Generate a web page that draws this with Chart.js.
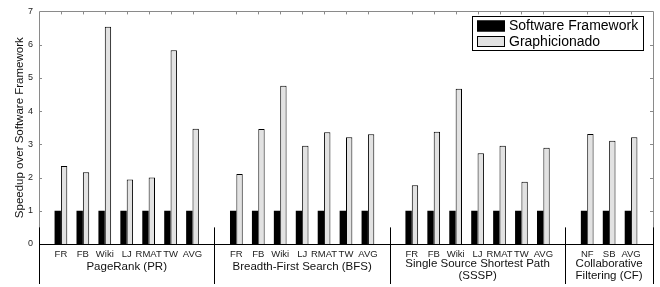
<!DOCTYPE html>
<html>
<head>
<meta charset="utf-8">
<script src="https://cdn.jsdelivr.net/npm/chart.js@4"></script>
<style>
  html, body { margin: 0; padding: 0; background: #fff; }
  #wrap { width: 660px; height: 287px; }
</style>
</head>
<body>
<div id="wrap"><canvas id="myChart" width="660" height="287"></canvas></div>
<script>
// categories per group
const groupNames = [["PageRank (PR)"], ["Breadth-First Search (BFS)"], ["Single Source Shortest Path", "(SSSP)"], ["Collaborative", "Filtering (CF)"]];
const prCats = ["FR", "FB", "Wiki", "LJ", "RMAT", "TW", "AVG"];
const bfsCats = ["FR", "FB", "Wiki", "LJ", "RMAT", "TW", "AVG"];
const ssspCats = ["FR", "FB", "Wiki", "LJ", "RMAT", "TW", "AVG"];
const cfCats = ["NF", "SB", "AVG"];

// Graphicionado speedup
const prSpeedup = [2.35, 2.16, 6.54, 1.94, 2.0, 5.83, 3.47];
const bfsSpeedup = [2.11, 3.46, 4.76, 2.96, 3.36, 3.21, 3.30];
const ssspSpeedup = [1.77, 3.38, 4.67, 2.73, 2.96, 1.87, 2.90];
const cfSpeedup = [3.31, 3.11, 3.21];

// software framework baseline
const baseline = 1;
const yTicks = [0, 1, 2, 3, 4, 5, 6, 7];

// build the axis with an empty slot around each group
const groupCats = [prCats, bfsCats, ssspCats, cfCats];
const groupVals = [prSpeedup, bfsSpeedup, ssspSpeedup, cfSpeedup];
let labels = [""];
let swData = [null];
let gData = [null];
let groupCenters = [];
let separators = [0];
groupCats.forEach((cats, g) => {
  let start = labels.length;
  cats.forEach((c, i) => {
    labels.push(c);
    swData.push(baseline);
    gData.push(groupVals[g][i]);
  });
  groupCenters.push((start + labels.length - 1) / 2);
  separators.push(labels.length);
  labels.push("");
  swData.push(null);
  gData.push(null);
});

const FONT = "'Liberation Sans', Arial, sans-serif";

const framePlugin = {
  id: "frame",
  afterDatasetsDraw(chart) {
    const { ctx, chartArea: a, scales } = chart;
    const x = scales.x, y = scales.y;
    ctx.save();
    // gray frame
    ctx.strokeStyle = "#8a8a8a";
    ctx.lineWidth = 1;
    ctx.beginPath();
    ctx.moveTo(Math.round(a.left) + 0.5, Math.round(a.bottom));
    ctx.lineTo(Math.round(a.left) + 0.5, Math.round(a.top) + 0.5);
    ctx.lineTo(Math.round(a.right) + 0.5, Math.round(a.top) + 0.5);
    ctx.lineTo(Math.round(a.right) + 0.5, Math.round(a.bottom));
    ctx.stroke();
    // inward ticks
    ctx.beginPath();
    labels.forEach((l, i) => {
      if (!l) return;
      const px = Math.round(x.getPixelForValue(i)) + 0.5;
      ctx.moveTo(px, a.top);
      ctx.lineTo(px, a.top + 3);
    });
    yTicks.forEach(v => {
      if (v === 0 || v === 7) return;
      const py = Math.round(y.getPixelForValue(v)) + 0.5;
      ctx.moveTo(a.right, py);
      ctx.lineTo(a.right - 3, py);
      ctx.moveTo(a.left, py);
      ctx.lineTo(a.left + 3, py);
    });
    ctx.stroke();
    // zero line
    ctx.strokeStyle = "#000";
    ctx.beginPath();
    const zy = Math.round(y.getPixelForValue(0)) + 0.5;
    ctx.moveTo(a.left, zy);
    ctx.lineTo(a.right, zy);
    // group separators
    separators.forEach(s => {
      const px = Math.round(x.getPixelForValue(s)) + 0.5;
      ctx.moveTo(px, y.getPixelForValue(0.5));
      ctx.lineTo(px, chart.height - 3);
    });
    ctx.stroke();
    // group names
    ctx.fillStyle = "#111";
    ctx.font = "11.5px " + FONT;
    ctx.textAlign = "center";
    ctx.textBaseline = "middle";
    groupNames.forEach((lines, g) => {
      const px = x.getPixelForValue(groupCenters[g]);
      const y0 = lines.length > 1 ? 263.5 : 266.5;
      lines.forEach((t, k) => ctx.fillText(t, px, y0 + k * 12));
    });
    // legend box
    const bx = 472, by = 16, bw = 171, bh = 34;
    ctx.fillStyle = "#fff";
    ctx.fillRect(bx, by, bw, bh);
    ctx.strokeStyle = "#000";
    ctx.strokeRect(bx + 0.5, by + 0.5, bw, bh);
    ctx.font = "14px " + FONT;
    ctx.textAlign = "left";
    chart.data.datasets.forEach((ds, k) => {
      const cy = by + 10 + k * 15.5;
      ctx.fillStyle = ds.backgroundColor;
      ctx.fillRect(bx + 5, cy - 5.5, 28, 11);
      ctx.strokeStyle = "#000";
      ctx.strokeRect(bx + 5.5, cy - 5, 27, 10);
      ctx.fillStyle = "#000";
      ctx.fillText(ds.label, bx + 37, cy + 0.5);
    });
    ctx.restore();
  }
};

const ctx = document.getElementById("myChart");
new Chart(ctx, {
  type: "bar",
  data: {
    labels: labels,
    datasets: [
      {
        label: "Software Framework",
        data: swData,
        backgroundColor: "#000000",
        borderColor: "#000000",
        borderWidth: 0,
      },
      {
        label: "Graphicionado",
        data: gData,
        backgroundColor: "#e2e2e2",
        borderColor: "#000000",
        borderWidth: 1,
      },
    ],
  },
  options: {
    responsive: false,
    animation: false,
    events: [],
    layout: { padding: { top: 7, right: 7, left: 0, bottom: 0 } },
    datasets: { bar: { categoryPercentage: 0.58, barPercentage: 1.0 } },
    plugins: {
      legend: { display: false },
      tooltip: { enabled: false },
    },
    scales: {
      x: {
        type: "category",
        offset: false,
        grid: { display: false, drawTicks: false },
        border: { display: false },
        ticks: {
          autoSkip: false,
          maxRotation: 0,
          padding: 5,
          color: "#222",
          font: { family: FONT, size: 9.5 },
        },
        afterFit: (s) => { s.height = 43; },
      },
      y: {
        min: 0,
        max: 7,
        grid: { display: false, drawTicks: false },
        border: { display: false },
        ticks: {
          stepSize: 1,
          padding: 6,
          color: "#222",
          font: { family: FONT, size: 9 },
        },
        title: {
          display: true,
          text: "Speedup over Software Framework",
          color: "#111",
          font: { family: FONT, size: 11.5 },
          padding: { top: 13, bottom: 0 },
        },
        afterFit: (s) => { s.width = 39; },
      },
    },
  },
  plugins: [framePlugin],
});
</script>
</body>
</html>
